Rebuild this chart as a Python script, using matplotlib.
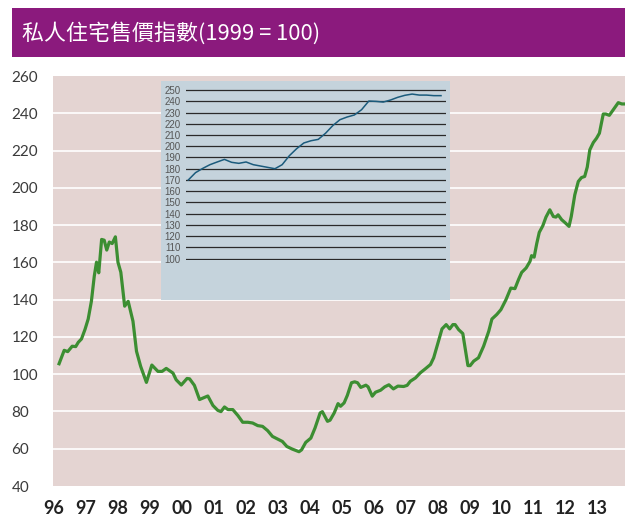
import numpy as np
import matplotlib
matplotlib.use("Agg")
import matplotlib.pyplot as plt

plt.rcParams['font.family'] = ['Noto Sans CJK TC', 'DejaVu Sans']

# 私人住宅售價指數 (1999 = 100)
years = [
    1996.17, 1996.33, 1996.44, 1996.58, 1996.69, 1996.77, 1996.87, 1996.98,
    1997.08, 1997.18, 1997.27, 1997.34, 1997.41, 1997.50, 1997.58, 1997.66,
    1997.74, 1997.83, 1997.93, 1998.01, 1998.10, 1998.22, 1998.33, 1998.48,
    1998.59, 1998.72, 1998.90, 1999.07, 1999.26, 1999.39, 1999.52, 1999.73,
    1999.83, 1999.99, 2000.17, 2000.25, 2000.40, 2000.56, 2000.82, 2000.98,
    2001.13, 2001.23, 2001.34, 2001.45, 2001.60, 2001.76, 2001.91, 2002.07,
    2002.22, 2002.38, 2002.53, 2002.69, 2002.84, 2003.00, 2003.15, 2003.29,
    2003.46, 2003.67, 2003.75, 2003.88, 2004.04, 2004.17, 2004.33, 2004.40,
    2004.56, 2004.64, 2004.77, 2004.89, 2004.97, 2005.08, 2005.18, 2005.31,
    2005.41, 2005.50, 2005.60, 2005.76, 2005.83, 2005.96, 2006.06, 2006.22,
    2006.35, 2006.48, 2006.62, 2006.76, 2006.94, 2007.05, 2007.15, 2007.31,
    2007.46, 2007.62, 2007.78, 2007.88, 2008.00, 2008.14, 2008.27, 2008.38,
    2008.48, 2008.55, 2008.66, 2008.79, 2008.87, 2008.95, 2009.02, 2009.13,
    2009.28, 2009.44, 2009.60, 2009.70, 2009.85, 2009.98, 2010.14, 2010.29,
    2010.42, 2010.53, 2010.63, 2010.77, 2010.89, 2010.94, 2011.02, 2011.10,
    2011.18, 2011.29, 2011.39, 2011.51, 2011.62, 2011.70, 2011.77, 2011.88,
    2011.98, 2012.11, 2012.18, 2012.29, 2012.40, 2012.50, 2012.60, 2012.68,
    2012.76, 2012.87, 2012.97, 2013.06, 2013.12, 2013.18, 2013.26, 2013.37,
    2013.50, 2013.65, 2013.76, 2013.86,
]
index = [
    105.6, 112.8, 112.1, 115.0, 114.8, 117.1, 118.9, 124.0,
    129.6, 139.1, 152.6, 160.1, 154.4, 172.3, 171.9, 166.6,
    170.9, 170.1, 173.7, 160.1, 154.7, 136.5, 139.1, 128.4,
    112.3, 104.2, 95.6, 104.9, 101.5, 101.5, 103.1, 100.6,
    97.0, 94.2, 97.7, 97.5, 94.0, 86.4, 88.3, 83.2,
    80.6, 79.9, 82.4, 81.0, 81.0, 77.8, 74.2, 74.2,
    73.8, 72.4, 72.0, 69.7, 66.6, 65.2, 63.9, 61.2,
    59.8, 58.4, 59.4, 63.4, 65.7, 71.1, 79.2, 79.9,
    74.7, 75.3, 79.2, 84.2, 82.8, 84.6, 88.6, 95.4,
    95.9, 95.4, 92.9, 94.1, 93.2, 88.2, 90.3, 91.4,
    93.2, 94.3, 92.1, 93.6, 93.4, 94.0, 96.2, 98.0,
    100.7, 102.9, 105.2, 108.8, 115.9, 124.3, 126.6, 124.3,
    126.6, 126.6, 123.9, 121.8, 113.2, 104.6, 104.6, 107.0,
    108.8, 115.0, 123.0, 129.6, 132.0, 134.6, 140.0, 146.2,
    145.9, 150.7, 154.6, 157.0, 160.5, 163.6, 162.8, 170.0,
    176.1, 179.6, 184.3, 188.2, 184.6, 184.3, 185.5, 182.9,
    181.4, 179.3, 184.6, 196.2, 203.4, 205.5, 206.1, 211.1,
    220.4, 224.3, 226.6, 229.3, 234.6, 239.6, 239.6, 238.9,
    242.1, 245.7, 245.0, 245.0,
]
year_ticks = list(range(1996, 2014))
year_labels = ["%02d" % (y % 100) for y in year_ticks]
y_ticks = list(range(40, 261, 20))

# inset (recent months, finer scale)
inset_values = [
    170.0, 176.5, 180.3, 183.6, 186.0, 188.3, 185.7, 184.8, 186.0, 183.6,
    182.4, 181.2, 180.0, 183.6, 191.6, 197.8, 202.9, 204.9, 206.1, 211.5,
    218.3, 223.6, 226.0, 227.8, 232.5, 240.2, 239.9, 239.3, 241.1, 243.5,
    245.3, 246.4, 245.5, 245.5, 245.0, 245.0,
]
inset_ticks = list(range(100, 251, 10))

title = "私人住宅售價指數(1999 = 100)"

fig = plt.figure(figsize=(6.25, 5.2), dpi=100)
fig.patch.set_facecolor("white")

# title bar
fig.patches.append(plt.Rectangle((12 / 625, 1 - 57 / 520), 613 / 625, 49 / 520,
                                 transform=fig.transFigure, facecolor="#8B1A7D",
                                 edgecolor="none", zorder=0))
fig.text(22 / 625, 1 - 33 / 520, title, color="white", fontsize=15.8,
         va="center", ha="left")

# main chart
ax = fig.add_axes([53 / 625, 34 / 520, 572 / 625, 410 / 520])
ax.set_facecolor("#E4D4D2")
ax.plot(years, index, color="#3C8E32", lw=2.3, solid_joinstyle="round", zorder=3)
ax.set_xlim(1995.98, 2013.86)
ax.set_ylim(40, 260)
ax.set_yticks(y_ticks)
ax.set_yticklabels([str(v) for v in y_ticks], family=["Lato", "DejaVu Sans"],
                   fontsize=11, color="#3a3a3a", ha="left")
ax.set_xticks(year_ticks)
ax.set_xticklabels(year_labels, family=["Lato", "DejaVu Sans"], fontsize=13,
                   fontweight="bold", color="#222222")
ax.tick_params(axis="y", length=0, pad=30)
ax.tick_params(axis="x", length=0, pad=10)
for s in ax.spines.values():
    s.set_visible(False)
for v in y_ticks[1:-1]:
    ax.axhline(v, color="white", lw=1.2, zorder=1)

# inset background
bg = fig.add_axes([161 / 625, 220 / 520, 289 / 625, 219 / 520])
bg.set_facecolor("#C5D3DC")
bg.set_xticks([])
bg.set_yticks([])
for s in bg.spines.values():
    s.set_visible(False)

# inset chart
ins = fig.add_axes([185.7 / 625, (520 - 259.8) / 520, 260 / 625, 170.9 / 520])
ins.patch.set_alpha(0)
ins.plot(range(len(inset_values)), inset_values, color="#1B5B7C", lw=1.1, zorder=3)
ins.set_xlim(-0.36, len(inset_values) - 1 + 0.65)
ins.set_ylim(99, 251)
ins.set_xticks([])
ins.set_yticks(inset_ticks)
ins.set_yticklabels([str(v) for v in inset_ticks], family=["Liberation Sans"],
                    fontsize=7, color="#555555")
ins.tick_params(axis="y", length=0, pad=3.5)
for s in ins.spines.values():
    s.set_visible(False)
for v in inset_ticks:
    ins.axhline(v, color="#2a2a2a", lw=0.9, zorder=1)

fig.savefig("out.png", dpi=100)
